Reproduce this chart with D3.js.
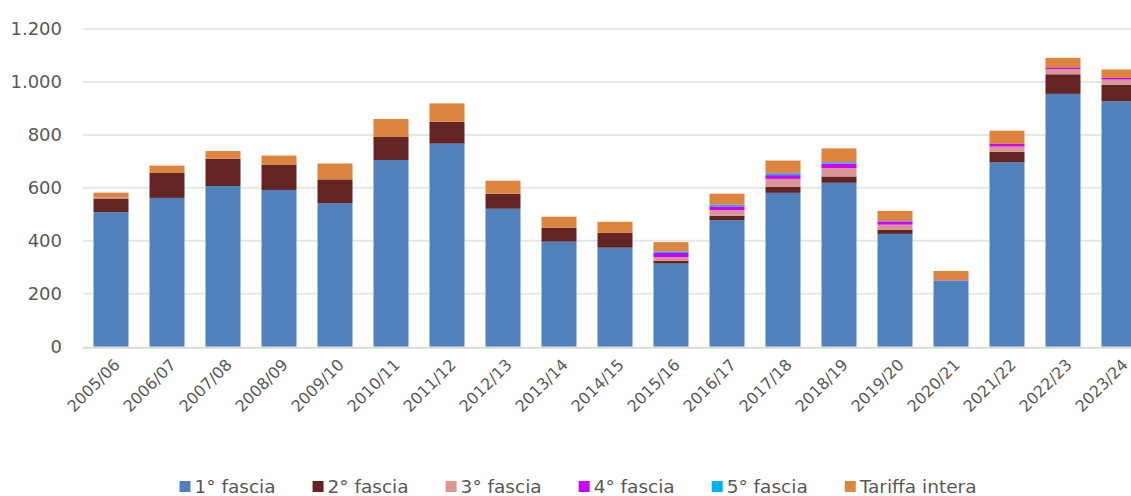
<!DOCTYPE html>
<html>
<head>
    <meta charset="utf-8">
    <script src="https://d3js.org/d3.v7.min.js"></script>
    <style>
        body { margin: 0; background: #fff; }
        svg { display: block; font-family: "DejaVu Sans", sans-serif; }
        .grid line { stroke: #e6e6e6; stroke-width: 2px; }
        .tick-label { fill: #595959; font-size: 18px; }
        .x-label { fill: #595959; font-size: 16px; }
        .legend text { fill: #595959; font-size: 18.5px; }
    </style>
</head>
<body>
<svg width="1131" height="496"></svg>
<script>
    var years = ["2005/06", "2006/07", "2007/08", "2008/09", "2009/10", "2010/11", "2011/12",
        "2012/13", "2013/14", "2014/15", "2015/16", "2016/17", "2017/18", "2018/19",
        "2019/20", "2020/21", "2021/22", "2022/23", "2023/24"];

    var fascia1 = [508, 562, 607, 592, 542, 705, 767, 521, 397, 374, 314, 478, 581, 619, 426, 250, 696, 955, 927];
    var fascia2 = [52, 94, 103, 96, 90, 87, 83, 57, 52, 56, 11, 16, 23, 24, 15, 0, 40, 74, 63];
    var fascia3 = [5, 0, 0, 0, 0, 0, 0, 0, 0, 0, 13, 22, 30, 32, 20, 1, 20, 20, 19];
    var fascia4 = [0, 0, 0, 0, 0, 0, 0, 0, 0, 0, 16, 14, 14, 17, 12, 1, 10, 6, 6];
    var fascia5 = [0, 0, 0, 0, 0, 0, 0, 0, 0, 0, 6, 6, 7, 5, 2, 0, 0, 0, 0];
    var tariffaIntera = [17, 28, 29, 34, 60, 68, 69, 49, 42, 42, 35, 42, 48, 52, 38, 34, 50, 36, 32];

    var seriesNames = ["1° fascia", "2° fascia", "3° fascia", "4° fascia", "5° fascia", "Tariffa intera"];
    var seriesValues = [fascia1, fascia2, fascia3, fascia4, fascia5, tariffaIntera];
    var colors = ["#4f81bd", "#632523", "#da9694", "#cc00ff", "#00b0f0", "#dd843e"];
    var yTicks = [0, 200, 400, 600, 800, 1000, 1200];

    var svg = d3.select("svg"),
        width = +svg.attr("width");

    // one row per year, keyed by series name, for d3.stack
    var rows = years.map(function (y, i) {
        var r = { year: y };
        seriesNames.forEach(function (s, k) { r[s] = seriesValues[k][i]; });
        return r;
    });
    var stacked = d3.stack().keys(seriesNames)(rows);

    var x = d3.scaleBand()
        .domain(years)
        .range([83, 1147])
        .paddingInner(0.375)
        .paddingOuter(0.1875);

    var y = d3.scaleLinear()
        .domain([0, 1200])
        .range([346.7, 29]);

    var fmt = function (d) { return d3.format(",")(d).replace(/,/g, "."); };

    // gridlines
    svg.append("g")
        .attr("class", "grid")
        .selectAll("line")
        .data(yTicks.filter(function (d) { return d > 0; }))
        .join("line")
        .attr("x1", 83)
        .attr("x2", width)
        .attr("y1", function (d) { return y(d); })
        .attr("y2", function (d) { return y(d); });

    // y labels
    svg.append("g")
        .selectAll("text")
        .data(yTicks)
        .join("text")
        .attr("class", "tick-label")
        .attr("x", 62)
        .attr("y", function (d) { return y(d); })
        .attr("dy", "0.36em")
        .attr("text-anchor", "end")
        .text(fmt);

    // bars
    svg.append("g")
        .selectAll("g")
        .data(stacked)
        .join("g")
        .attr("fill", function (d, i) { return colors[i]; })
        .selectAll("rect")
        .data(function (d) { return d; })
        .join("rect")
        .attr("x", function (d) { return x(d.data.year); })
        .attr("width", x.bandwidth())
        .attr("y", function (d) { return y(d[1]); })
        .attr("height", function (d) { return Math.max(0, y(d[0]) - y(d[1])); });

    // baseline
    svg.append("line")
        .attr("x1", 83)
        .attr("x2", width)
        .attr("y1", y(0) + 1)
        .attr("y2", y(0) + 1)
        .attr("stroke", "#d9d9d9")
        .attr("stroke-width", 2);

    // x labels, rotated
    svg.append("g")
        .selectAll("text")
        .data(years)
        .join("text")
        .attr("class", "x-label")
        .attr("text-anchor", "end")
        .attr("transform", function (d) {
            return "translate(" + (x(d) + x.bandwidth() / 2 + 2) + ",358) rotate(-45)";
        })
        .attr("dy", "0.7em")
        .text(function (d) { return d; });

    // legend
    var legend = svg.append("g").attr("class", "legend");
    var lx = 0, gap = 37;
    seriesNames.forEach(function (s, i) {
        var item = legend.append("g").attr("transform", "translate(" + lx + ",0)");
        item.append("rect")
            .attr("x", 0)
            .attr("y", -5)
            .attr("width", 11)
            .attr("height", 11)
            .attr("fill", colors[i]);
        var t = item.append("text")
            .attr("x", 15)
            .attr("y", 0)
            .attr("dy", "0.36em")
            .text(s);
        lx += 15 + t.node().getComputedTextLength() + gap;
    });
    lx -= gap;
    legend.attr("transform", "translate(" + (578 - lx / 2) + ",486)");
</script>
</body>
</html>
